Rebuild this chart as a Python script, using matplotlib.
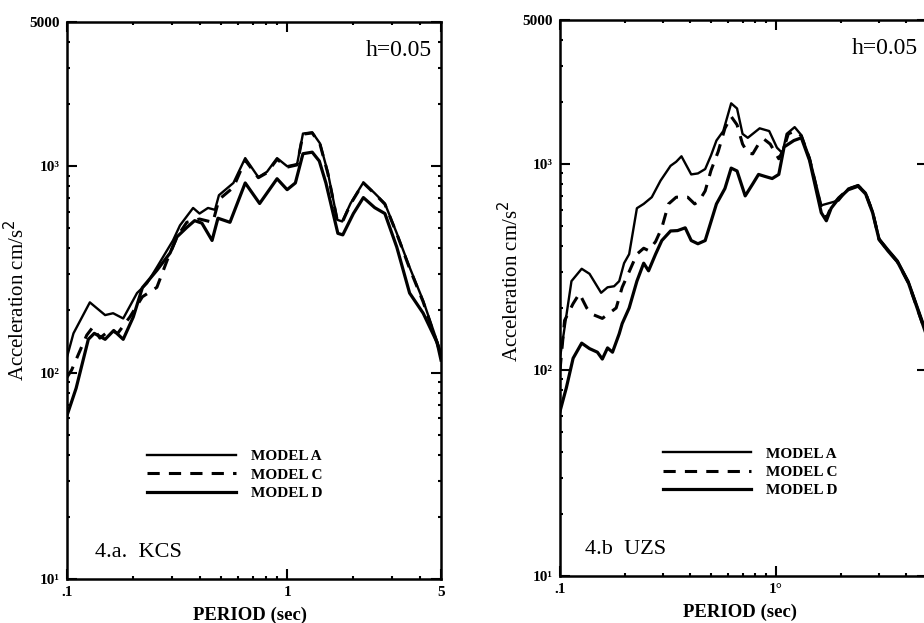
import numpy as np
import matplotlib
matplotlib.use("Agg")
import matplotlib.pyplot as plt
from matplotlib.ticker import FixedLocator, LogLocator, NullFormatter

plt.rcParams['font.family'] = ['Liberation Serif', 'DejaVu Serif']

# ---- panel 4.a KCS ----
kcs_period_a = [0.1, 0.107, 0.127, 0.149, 0.162, 0.18, 0.208, 0.231, 0.256, 0.303, 0.326, 0.374,
                0.40, 0.437, 0.47, 0.49, 0.57, 0.645, 0.74, 0.81, 0.9, 1.0, 1.11, 1.18, 1.3, 1.41,
                1.53, 1.69, 1.78, 1.94, 2.22, 2.5, 2.78, 3.15, 3.6, 4.15, 5.0]
kcs_acc_a = [119, 155, 219, 190, 194, 183, 243, 271, 324, 437, 517, 628,
             590, 628, 615, 724, 830, 1095, 885, 940, 1095, 1000, 1025, 1440, 1460, 1290,
             935, 550, 540, 660, 835, 740, 660, 473, 324, 223, 125]

kcs_period_c = [0.1, 0.105, 0.115, 0.123, 0.131, 0.141, 0.157, 0.17, 0.193, 0.22, 0.256, 0.285,
                0.316, 0.35, 0.40, 0.46, 0.49, 0.57, 0.645, 0.74, 0.81, 0.9, 1.0, 1.11, 1.18, 1.3,
                1.41, 1.53, 1.69, 1.78, 1.94, 2.22, 2.5, 2.78, 3.15, 3.6, 4.15, 5.0]
kcs_acc_c = [95, 103, 129, 152, 166, 147, 161, 155, 186, 233, 259, 350,
             455, 535, 555, 535, 690, 790, 1070, 880, 930, 1080, 990, 1015, 1430, 1450,
             1280, 925, 545, 535, 655, 830, 735, 655, 470, 320, 220, 122]

kcs_period_d = [0.1, 0.11, 0.125, 0.133, 0.149, 0.163, 0.18, 0.2, 0.22, 0.256, 0.294, 0.316,
                0.35, 0.38, 0.41, 0.456, 0.485, 0.55, 0.645, 0.75, 0.9, 1.0, 1.09, 1.18, 1.3,
                1.4, 1.5, 1.7, 1.79, 2.0, 2.22, 2.5, 2.78, 3.15, 3.6, 4.15, 4.8, 5.0]
kcs_acc_d = [62, 84, 145, 155, 145, 160, 145, 186, 258, 313, 380, 455,
             505, 545, 530, 437, 560, 535, 830, 660, 870, 770, 830, 1150, 1170,
             1060, 830, 473, 465, 590, 705, 630, 590, 405, 243, 194, 140, 115]

# ---- panel 4.b UZS ----
uzs_period_a = [0.1, 0.104, 0.113, 0.126, 0.137, 0.155, 0.166, 0.178, 0.188, 0.198, 0.209, 0.227,
                0.244, 0.266, 0.292, 0.325, 0.345, 0.365, 0.405, 0.435, 0.47, 0.5, 0.53, 0.57,
                0.62, 0.66, 0.70, 0.74, 0.84, 0.93, 1.01, 1.07, 1.12, 1.22, 1.31, 1.43, 1.62,
                1.95, 2.16, 2.4, 2.6, 2.8, 3.0, 3.3, 3.65, 4.1, 4.5, 5.0]
uzs_acc_a = [115, 150, 270, 310, 293, 237, 252, 255, 270, 330, 365, 610,
             640, 690, 830, 980, 1025, 1090, 890, 900, 945, 1100, 1300, 1445,
             1970, 1860, 1400, 1340, 1490, 1445, 1200, 1130, 1400, 1510, 1380, 1070, 630,
             665, 760, 790, 725, 590, 435, 385, 340, 270, 205, 150]

uzs_period_c = [0.1, 0.105, 0.115, 0.123, 0.133, 0.14, 0.157, 0.182, 0.194, 0.209, 0.227, 0.244,
                0.257, 0.277, 0.296, 0.318, 0.345, 0.39, 0.42, 0.44, 0.47, 0.5, 0.54, 0.58,
                0.62, 0.66, 0.70, 0.74, 0.78, 0.83, 0.88, 0.94, 1.03, 1.08, 1.14, 1.22, 1.31,
                1.43, 1.62, 1.71, 1.80, 1.95, 2.16, 2.4, 2.6, 2.8, 3.0, 3.3, 3.65, 4.1, 4.5, 5.0]
uzs_acc_c = [100, 174, 210, 235, 200, 187, 178, 200, 252, 300, 365, 390,
             380, 420, 490, 640, 690, 690, 640, 660, 740, 930, 1150, 1490,
             1700, 1550, 1250, 1130, 1120, 1250, 1320, 1250, 1060, 1170, 1400, 1445, 1370,
             1060, 610, 545, 620, 685, 755, 785, 720, 585, 430, 380, 335, 265, 200, 145]

uzs_period_d = [0.1, 0.107, 0.115, 0.126, 0.137, 0.149, 0.157, 0.166, 0.175, 0.188, 0.194, 0.209,
                0.227, 0.244, 0.257, 0.277, 0.296, 0.325, 0.35, 0.38, 0.405, 0.435, 0.47, 0.53,
                0.58, 0.62, 0.66, 0.72, 0.78, 0.83, 0.89, 0.96, 1.03, 1.09, 1.21, 1.31, 1.43,
                1.62, 1.71, 1.80, 1.95, 2.16, 2.4, 2.6, 2.8, 3.0, 3.3, 3.65, 4.1, 4.5, 5.0]
uzs_acc_d = [63, 82, 114, 135, 127, 122, 113, 128, 122, 150, 168, 200,
             270, 330, 303, 365, 425, 473, 475, 490, 425, 410, 425, 640,
             760, 955, 925, 700, 800, 890, 870, 850, 890, 1210, 1300, 1340, 1040,
             580, 530, 610, 680, 750, 780, 715, 580, 430, 378, 335, 265, 200, 145]

model_labels = ['MODEL A', 'MODEL C', 'MODEL D']
ytick_vals = [10, 100, 1000, 5000]
ytick_labels = ['10¹', '10²', '10³', '5000']


def draw_panel(ax, series, xticklabels, tag, leg_anchor, tag_x, ylab_y):
    (pa, aa), (pc, ac), (pd, ad) = series
    ax.plot(pa, aa, color='black', lw=1.7, label=model_labels[0])
    ax.plot(pc, ac, color='black', lw=2.2, dashes=(4, 3), label=model_labels[1])
    ax.plot(pd, ad, color='black', lw=2.3, label=model_labels[2])

    ax.set_xscale('log')
    ax.set_yscale('log')
    ax.set_xlim(0.1, 5)
    ax.set_ylim(10, 5000)

    ax.xaxis.set_major_locator(FixedLocator([0.1, 1, 5]))
    ax.set_xticklabels(xticklabels)
    ax.xaxis.set_minor_locator(LogLocator(base=10, subs=np.arange(2, 10)))
    ax.xaxis.set_minor_formatter(NullFormatter())
    ax.yaxis.set_major_locator(FixedLocator(ytick_vals))
    ax.set_yticklabels(ytick_labels)
    ax.yaxis.set_minor_locator(LogLocator(base=10, subs=np.arange(2, 10)))
    ax.yaxis.set_minor_formatter(NullFormatter())

    ax.tick_params(which='both', direction='in', top=True, right=True, color='black')
    ax.tick_params(which='major', length=7, width=1.5, labelsize=11, pad=5)
    ax.tick_params(which='minor', length=2.5, width=1.5)
    for lbl in ax.get_xticklabels() + ax.get_yticklabels():
        lbl.set_fontweight('bold')
    for sp in ax.spines.values():
        sp.set_linewidth(1.8)

    ax.set_ylabel('Acceleration cm/s$^2$', fontsize=15)
    ax.yaxis.set_label_coords(-0.10, ylab_y)
    ax.set_xlabel('PERIOD (sec)', fontsize=13.5, fontweight='bold')
    ax.xaxis.set_label_coords(0.49, -0.05)

    ax.text(0.975, 0.948, 'h=0.05', transform=ax.transAxes, ha='right', va='center', fontsize=17)
    ax.text(tag_x, 0.047, tag, transform=ax.transAxes, ha='left', va='center', fontsize=16)

    leg = ax.legend(loc='upper left', bbox_to_anchor=leg_anchor, frameon=False,
                    handlelength=5.8, handletextpad=0.95, labelspacing=0.3,
                    borderpad=0, borderaxespad=0,
                    prop={'family': 'Liberation Serif', 'weight': 'bold', 'size': 11})
    return leg


fig = plt.figure(figsize=(9.24, 6.23), dpi=100)
ax1 = fig.add_axes([67 / 924, 44 / 623, 374 / 924, 557 / 623])
ax2 = fig.add_axes([560 / 924, 47 / 623, 367 / 924, 556 / 623])

draw_panel(ax1, [(kcs_period_a, kcs_acc_a), (kcs_period_c, kcs_acc_c), (kcs_period_d, kcs_acc_d)],
           ['.1', '1', '5'], '4.a.  KCS', (0.215, 0.232), 0.075, 0.5)
draw_panel(ax2, [(uzs_period_a, uzs_acc_a), (uzs_period_c, uzs_acc_c), (uzs_period_d, uzs_acc_d)],
           ['.1', '1°', ''], '4.b  UZS', (0.28, 0.232), 0.068, 0.53)

fig.savefig('out.png', dpi=100)
